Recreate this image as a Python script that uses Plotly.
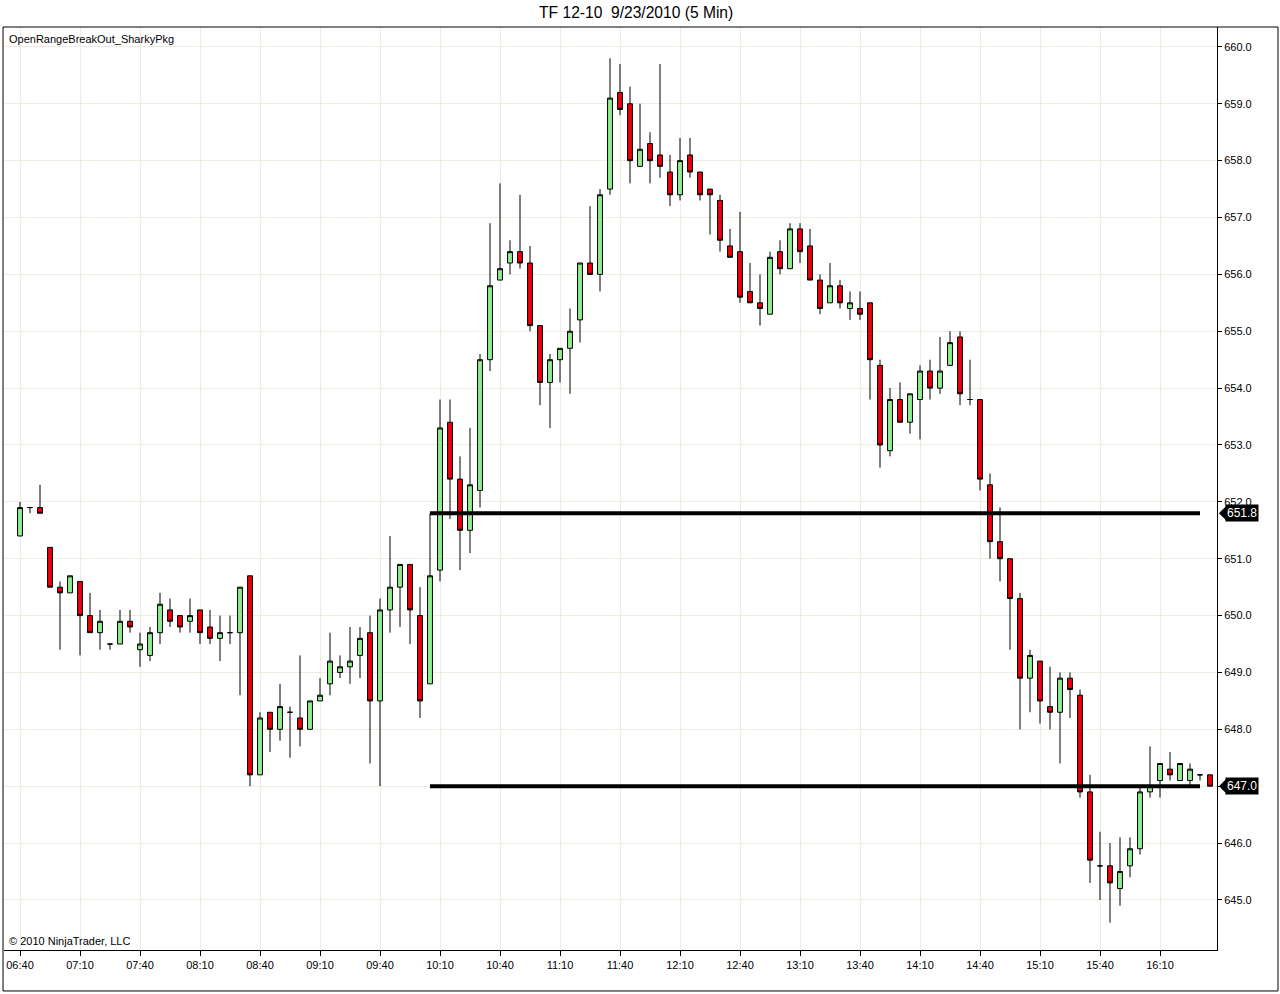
import pandas as pd
import plotly.graph_objects as go

# 5 minute bars, TF 12-10, 23 Sep 2010, first bar 06:40
opens = [651.4, 651.9, 651.9, 651.2, 650.5, 650.4, 650.6, 650.0, 649.7, 649.5,
         649.5, 649.9, 649.4, 649.3, 649.7, 650.1, 650.0, 649.9, 650.1, 649.8,
         649.6, 649.7, 649.7, 650.7, 647.2, 648.3, 648.0, 648.3, 648.2, 648.0,
         648.5, 648.8, 649.0, 649.1, 649.3, 649.7, 648.5, 650.1, 650.5, 650.9,
         650.0, 648.8, 650.8, 653.4, 652.4, 651.5, 652.2, 654.5, 655.9, 656.2,
         656.4, 656.2, 655.1, 654.1, 654.5, 654.7, 655.2, 656.2, 656.0, 657.5,
         659.2, 659.0, 657.9, 658.3, 658.1, 657.8, 657.4, 658.1, 657.8, 657.5,
         657.3, 656.5, 656.4, 655.7, 655.5, 655.3, 656.4, 656.1, 656.8, 656.5,
         655.9, 655.5, 655.8, 655.4, 655.4, 655.5, 654.4, 652.9, 653.8, 653.4,
         653.8, 654.3, 654.0, 654.4, 654.9, 653.8, 653.8, 652.3, 651.3, 651.0,
         650.3, 648.9, 649.2, 648.4, 648.3, 648.9, 648.6, 646.9, 645.6, 645.6,
         645.2, 645.6, 645.9, 646.9, 647.1, 647.3, 647.1, 647.1, 647.2, 647.2]
highs = [652.0, 651.9, 652.3, 651.2, 650.6, 650.7, 650.6, 650.4, 650.1, 649.5,
         650.1, 650.1, 649.7, 649.8, 650.4, 650.3, 650.0, 650.3, 650.1, 650.1,
         650.0, 650.0, 650.5, 650.7, 648.3, 648.3, 648.8, 648.4, 649.3, 648.5,
         648.9, 649.7, 649.3, 649.8, 649.8, 650.0, 650.3, 651.4, 650.9, 650.9,
         650.5, 651.8, 653.8, 653.8, 652.8, 653.3, 654.6, 656.9, 657.6, 656.6,
         657.4, 656.5, 655.1, 654.6, 654.7, 655.4, 656.2, 657.2, 657.5, 659.8,
         659.7, 659.3, 659.0, 658.5, 659.7, 658.1, 658.4, 658.4, 657.8, 657.5,
         657.4, 656.8, 657.1, 656.2, 656.0, 656.4, 656.6, 656.9, 656.9, 656.8,
         656.0, 656.2, 655.9, 655.7, 655.7, 655.5, 654.5, 654.0, 654.1, 653.9,
         654.4, 654.5, 654.9, 655.0, 655.0, 654.5, 653.8, 652.5, 651.9, 651.0,
         650.4, 649.4, 649.2, 649.1, 649.0, 649.0, 648.7, 647.2, 646.2, 646.0,
         646.1, 646.1, 647.0, 647.7, 647.4, 647.6, 647.4, 647.4, 647.2, 647.2]
lows = [651.4, 651.8, 651.8, 650.5, 649.4, 650.4, 649.3, 649.7, 649.4, 649.4,
        649.5, 649.7, 649.1, 649.2, 649.5, 649.8, 649.7, 649.7, 649.5, 649.5,
        649.2, 649.5, 648.6, 647.0, 647.2, 647.6, 647.8, 647.5, 647.7, 648.0,
        648.5, 648.6, 648.9, 648.8, 648.9, 647.4, 647.0, 649.7, 649.8, 649.5,
        648.2, 648.8, 650.6, 651.7, 650.8, 651.1, 651.9, 654.3, 655.9, 656.0,
        656.1, 655.0, 653.7, 653.3, 654.1, 653.9, 654.8, 656.0, 655.7, 657.4,
        658.8, 657.6, 657.9, 657.6, 657.7, 657.2, 657.3, 657.7, 657.3, 656.7,
        656.4, 656.3, 655.5, 655.5, 655.1, 655.3, 656.0, 656.1, 656.2, 655.9,
        655.3, 655.5, 655.4, 655.2, 655.2, 653.8, 652.6, 652.8, 653.4, 653.2,
        653.1, 653.8, 653.9, 654.4, 653.7, 653.7, 652.2, 651.0, 650.6, 649.4,
        648.0, 648.3, 648.1, 648.0, 647.4, 648.2, 646.8, 645.3, 645.0, 644.6,
        644.9, 645.4, 645.8, 646.8, 646.8, 647.1, 647.1, 647.0, 647.1, 647.0]
closes = [651.9, 651.9, 651.8, 650.5, 650.4, 650.7, 650.0, 649.7, 649.9, 649.5,
          649.9, 649.8, 649.5, 649.7, 650.2, 649.9, 649.8, 650.0, 649.7, 649.6,
          649.7, 649.7, 650.5, 647.2, 648.2, 648.0, 648.4, 648.3, 648.0, 648.5,
          648.6, 649.2, 649.1, 649.2, 649.6, 648.5, 650.1, 650.5, 650.9, 650.1,
          648.5, 650.7, 653.3, 652.4, 651.5, 652.3, 654.5, 655.8, 656.1, 656.4,
          656.2, 655.1, 654.1, 654.5, 654.7, 655.0, 656.2, 656.0, 657.4, 659.1,
          658.9, 658.0, 658.2, 658.0, 657.9, 657.4, 658.0, 657.8, 657.4, 657.4,
          656.6, 656.3, 655.6, 655.5, 655.4, 656.3, 656.1, 656.8, 656.4, 655.9,
          655.4, 655.8, 655.5, 655.5, 655.3, 654.5, 653.0, 653.8, 653.4, 653.9,
          654.3, 654.0, 654.3, 654.8, 653.9, 653.8, 652.4, 651.3, 651.0, 650.3,
          648.9, 649.3, 648.5, 648.3, 648.9, 648.7, 646.9, 645.7, 645.6, 645.3,
          645.5, 645.9, 646.9, 647.0, 647.4, 647.2, 647.4, 647.3, 647.2, 647.0]

bar_times = pd.date_range("2010-09-23 06:40", periods=len(opens), freq="5min")

tick_labels = ["06:40", "07:10", "07:40", "08:10", "08:40", "09:10", "09:40",
               "10:10", "10:40", "11:10", "11:40", "12:10", "12:40", "13:10",
               "13:40", "14:10", "14:40", "15:10", "15:40", "16:10"]
tick_times = [pd.Timestamp("2010-09-23 " + t) for t in tick_labels]
price_ticks = [645.0, 646.0, 647.0, 648.0, 649.0, 650.0, 651.0, 652.0,
               653.0, 654.0, 655.0, 656.0, 657.0, 658.0, 659.0, 660.0]

# opening range lines (drawn from 10:05 bar to 16:30 bar)
orb_high = 651.8
orb_low = 647.0
orb_start = pd.Timestamp("2010-09-23 10:05")
orb_end = pd.Timestamp("2010-09-23 16:30")

# the 647.0 tick label sits under the price tag in the original
price_text = ["" if abs(p - orb_low) < 0.05 else "%.1f" % p for p in price_ticks]

FONT = "Liberation Sans, Arial, sans-serif"
GRID = "#efebe1"

fig = go.Figure()
fig.add_trace(go.Candlestick(
    x=bar_times, open=opens, high=highs, low=lows, close=closes,
    increasing=dict(fillcolor="#90ee90", line=dict(color="black", width=1)),
    decreasing=dict(fillcolor="#e8000b", line=dict(color="black", width=1)),
    whiskerwidth=0, showlegend=False, hoverinfo="x+y"))

for lvl in [orb_high, orb_low]:
    fig.add_trace(go.Scatter(x=[orb_start, orb_end], y=[lvl, lvl], mode="lines",
                             line=dict(color="black", width=4),
                             showlegend=False, hoverinfo="skip"))

# price tags on the right axis
for lvl in [orb_high, orb_low]:
    fig.add_annotation(xref="paper", yref="y", x=1, y=lvl, xanchor="left",
                       xshift=8, text="%.1f" % lvl, showarrow=False,
                       bgcolor="black", font=dict(color="white", size=12, family=FONT),
                       borderpad=1)
    fig.add_shape(type="path", xref="paper", yref="y", line_width=0,
                  fillcolor="black",
                  path="M 1.0016 %f L 1.0075 %f L 1.0075 %f Z" % (lvl, lvl + 0.125, lvl - 0.125))

fig.add_annotation(xref="paper", yref="paper", x=0, y=1, xanchor="left",
                   yanchor="top", xshift=3, yshift=-4, showarrow=False,
                   text="OpenRangeBreakOut_SharkyPkg",
                   font=dict(size=11, family=FONT, color="black"))
fig.add_annotation(xref="paper", yref="paper", x=0, y=0, xanchor="left",
                   yanchor="bottom", xshift=3, yshift=1, showarrow=False,
                   text="© 2010 NinjaTrader, LLC",
                   font=dict(size=11, family=FONT, color="black"))

# outer frame
fig.add_shape(type="rect", xref="paper", yref="paper",
              x0=-0.0008, x1=1.0503, y0=-0.0444, y1=1.0,
              line=dict(color="black", width=1), fillcolor="rgba(0,0,0,0)")

fig.update_layout(
    width=1280, height=994,
    margin=dict(l=4, r=63, t=27, b=44),
    paper_bgcolor="white", plot_bgcolor="white",
    title=dict(text="TF 12-10\u00a0 9/23/2010 (5 Min)", x=0.497, xref="container",
               y=0.987, yref="container", yanchor="middle",
               font=dict(size=15.6, family=FONT, color="black")),
    font=dict(family=FONT, size=11, color="black"),
    xaxis=dict(
        type="date", rangeslider=dict(visible=False),
        range=[pd.Timestamp("2010-09-23 06:32"), pd.Timestamp("2010-09-23 16:38:30")],
        tickvals=tick_times, ticktext=tick_labels,
        showgrid=True, gridcolor=GRID, gridwidth=1,
        showline=True, linecolor="black", linewidth=1,
        ticks="outside", ticklen=5, tickcolor="black",
        tickfont=dict(size=11, family=FONT), zeroline=False),
    yaxis=dict(
        side="right", range=[644.12, 660.35],
        tickvals=price_ticks, ticktext=price_text,
        showgrid=True, gridcolor=GRID, gridwidth=1,
        showline=True, linecolor="black", linewidth=1,
        ticks="outside", ticklen=4, tickcolor="black",
        tickfont=dict(size=11, family=FONT), zeroline=False),
)

fig.write_html("out.html", config={"displayModeBar": False},
               post_script="document.body.style.margin='0';")
